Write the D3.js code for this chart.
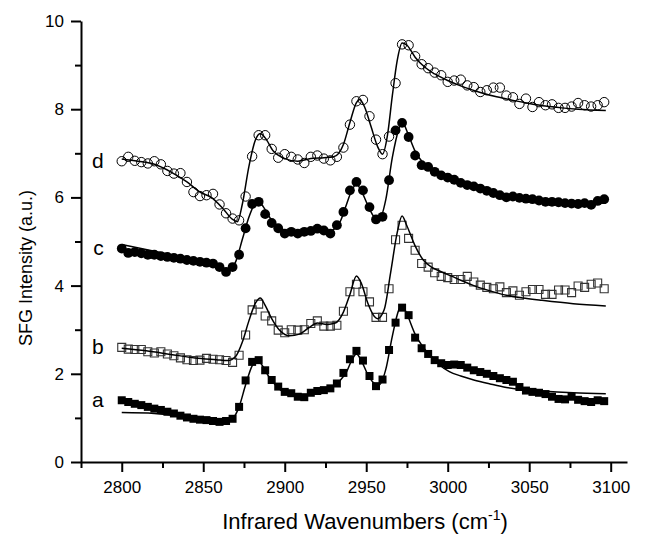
<!DOCTYPE html>
<html>
<head>
<meta charset="utf-8">
<script src="https://cdnjs.cloudflare.com/ajax/libs/d3/7.8.5/d3.min.js"></script>
<style>
body { margin: 0; background: #fff; }
svg { font-family: "Liberation Sans", Arial, sans-serif; }
.axis path, .axis line { stroke: #000; stroke-width: 2; }
.axis text { font-size: 17px; fill: #000; }
</style>
</head>
<body>
<svg width="650" height="535"></svg>
<script>
// measured points, every 4 cm-1
var wavenumbers = [2800,2804,2808,2812,2816,2820,2824,2828,2832,2836,2840,2844,2848,2852,2856,2860,2864,2868,2872,2876,
  2880,2884,2888,2892,2896,2900,2904,2908,2912,2916,2920,2924,2928,2932,2936,2940,2944,2948,2952,2956,
  2960,2964,2968,2972,2976,2980,2984,2988,2992,2996,3000,3004,3008,3012,3016,3020,3024,3028,3032,3036,
  3040,3044,3048,3052,3056,3060,3064,3068,3072,3076,3080,3084,3088,3092,3096];

var seriesA = [1.40,1.36,1.32,1.29,1.25,1.21,1.18,1.14,1.10,1.05,1.01,0.98,0.96,0.95,0.93,0.91,0.93,0.98,1.25,1.85,
  2.27,2.31,2.08,1.86,1.71,1.59,1.56,1.48,1.47,1.57,1.61,1.63,1.67,1.78,2.02,2.33,2.52,2.30,1.95,1.72,
  1.87,2.54,3.16,3.50,3.33,2.82,2.58,2.45,2.31,2.24,2.20,2.21,2.20,2.14,2.08,2.04,2.00,1.95,1.90,1.86,
  1.82,1.70,1.62,1.59,1.57,1.54,1.48,1.43,1.42,1.48,1.41,1.38,1.36,1.40,1.38];

var seriesB = [2.60,2.56,2.55,2.55,2.50,2.47,2.50,2.45,2.41,2.36,2.32,2.30,2.31,2.35,2.33,2.32,2.30,2.26,2.42,2.88,
  3.45,3.58,3.31,3.20,2.99,2.93,3.00,2.99,3.00,3.14,3.20,3.08,3.08,3.10,3.42,3.86,4.03,3.86,3.63,3.28,
  3.28,3.93,5.04,5.37,5.07,4.80,4.50,4.42,4.29,4.21,4.18,4.14,4.14,4.21,4.08,4.01,3.96,3.93,3.97,3.84,
  3.88,3.78,3.86,3.91,3.91,3.80,3.80,3.90,3.90,3.84,3.99,3.96,4.03,4.06,3.93];

var seriesC = [4.84,4.74,4.76,4.73,4.70,4.70,4.67,4.65,4.63,4.61,4.58,4.56,4.54,4.52,4.50,4.42,4.31,4.42,4.70,5.30,
  5.85,5.90,5.62,5.42,5.30,5.18,5.22,5.18,5.22,5.24,5.29,5.25,5.18,5.37,5.67,6.16,6.35,6.16,5.78,5.50,
  5.56,6.39,7.52,7.69,7.37,6.95,6.73,6.69,6.58,6.50,6.45,6.40,6.33,6.28,6.25,6.20,6.15,6.10,6.05,6.00,
  6.02,5.99,5.97,5.96,5.93,5.90,5.90,5.89,5.87,5.86,5.85,5.87,5.83,5.92,5.96];

var seriesD = [6.82,6.92,6.83,6.80,6.77,6.82,6.75,6.60,6.54,6.55,6.35,6.12,6.03,6.05,6.08,5.84,5.64,5.52,5.48,6.02,
  6.93,7.41,7.41,7.10,6.90,6.98,6.92,6.86,6.78,6.92,6.95,6.88,6.84,6.92,7.13,7.65,8.18,8.21,7.84,7.31,
  6.98,7.38,8.59,9.47,9.45,9.20,9.02,8.93,8.83,8.77,8.62,8.65,8.67,8.54,8.50,8.39,8.43,8.49,8.49,8.31,
  8.27,8.12,8.24,8.05,8.16,8.09,8.11,8.03,8.03,8.06,8.14,8.09,8.06,8.09,8.16];

// fitted curves, [wavenumber, intensity]
var fitA = [[2800,1.12],[2820,1.10],[2840,1.01],[2850,0.95],[2858,0.90],[2863,0.89],[2868,0.98],[2872,1.25],[2876,1.75],
  [2880,2.18],[2883,2.30],[2886,2.20],[2890,1.95],[2896,1.68],[2904,1.50],[2910,1.47],[2916,1.55],[2922,1.62],[2928,1.68],
  [2934,1.85],[2938,2.05],[2941,2.30],[2944,2.45],[2947,2.30],[2951,1.98],[2955,1.78],[2958,1.75],[2962,2.10],[2966,2.85],
  [2970,3.45],[2972,3.55],[2975,3.35],[2980,2.90],[2985,2.60],[2990,2.40],[2995,2.20],[3001,2.05],[3008,1.95],[3016,1.86],
  [3026,1.77],[3036,1.69],[3046,1.64],[3057,1.61],[3077,1.57],[3097,1.55]];

var fitB = [[2800,2.58],[2815,2.52],[2830,2.44],[2845,2.36],[2858,2.32],[2865,2.30],[2870,2.40],[2874,2.72],[2878,3.20],
  [2882,3.60],[2885,3.72],[2888,3.55],[2892,3.25],[2897,2.98],[2903,2.86],[2909,2.90],[2915,3.05],[2920,3.15],[2926,3.12],
  [2931,3.15],[2936,3.40],[2940,3.80],[2944,4.22],[2947,4.05],[2951,3.60],[2955,3.30],[2957,3.25],[2961,3.45],[2965,4.30],
  [2969,5.20],[2972,5.58],[2975,5.35],[2980,4.90],[2985,4.58],[2990,4.42],[2995,4.33],[3002,4.22],[3008,4.12],[3016,4.00],
  [3026,3.88],[3036,3.78],[3046,3.72],[3057,3.67],[3077,3.59],[3097,3.54]];

var fitC = [[2800,4.93],[2820,4.78],[2840,4.62],[2855,4.48],[2862,4.40],[2866,4.36],[2870,4.55],[2874,5.05],[2878,5.55],
  [2882,5.88],[2884,5.92],[2887,5.78],[2892,5.48],[2898,5.28],[2905,5.20],[2912,5.20],[2920,5.25],[2928,5.25],[2934,5.45],
  [2938,5.85],[2941,6.15],[2944,6.30],[2947,6.15],[2951,5.82],[2955,5.55],[2958,5.50],[2962,5.95],[2966,6.90],[2970,7.55],
  [2972,7.72],[2975,7.50],[2980,7.05],[2985,6.78],[2990,6.62],[2996,6.48],[3004,6.35],[3015,6.22],[3030,6.08],[3045,5.99],
  [3060,5.93],[3080,5.89],[3097,5.87]];

var fitD = [[2800,6.87],[2810,6.82],[2820,6.75],[2830,6.58],[2840,6.35],[2848,6.12],[2855,6.00],[2862,5.75],[2868,5.50],
  [2871,5.45],[2874,5.85],[2878,6.70],[2882,7.30],[2885,7.45],[2888,7.35],[2893,7.05],[2900,6.88],[2908,6.82],[2916,6.88],
  [2924,6.90],[2930,6.92],[2936,7.20],[2940,7.70],[2944,8.15],[2946,8.22],[2949,8.05],[2953,7.60],[2957,7.15],[2960,6.98],
  [2963,7.40],[2966,8.30],[2969,9.10],[2972,9.50],[2975,9.45],[2980,9.18],[2986,8.95],[2992,8.80],[3000,8.65],[3010,8.50],
  [3020,8.38],[3030,8.28],[3040,8.20],[3050,8.13],[3060,8.07],[3070,8.03],[3080,8.00],[3097,7.97]];

var seriesLabels = ['a', 'b', 'c', 'd'];
var xMajor = [2800, 2850, 2900, 2950, 3000, 3050, 3100];
var xMinor = [2775, 2825, 2875, 2925, 2975, 3025, 3075];
var yMajor = [0, 2, 4, 6, 8, 10];
var yMinor = [1, 3, 5, 7, 9];

var svg = d3.select('svg');
var margin = {top: 21, right: 23, bottom: 73, left: 81};
var width = +svg.attr('width') - margin.left - margin.right;
var height = +svg.attr('height') - margin.top - margin.bottom;
var g = svg.append('g')
  .attr('transform', `translate(${margin.left},${margin.top})`);

var x = d3.scaleLinear().domain([2775, 3110]).range([0, width]);
var y = d3.scaleLinear().domain([0, 10]).range([height, 0]);

// axes, major + minor ticks
g.append('g')
  .attr('class', 'axis')
  .attr('transform', `translate(0,${height})`)
  .call(d3.axisBottom(x).tickValues(xMajor).tickSize(10).tickSizeOuter(0).tickPadding(9).tickFormat(d3.format('d')));
g.append('g')
  .attr('class', 'axis')
  .attr('transform', `translate(0,${height})`)
  .call(d3.axisBottom(x).tickValues(xMinor).tickSize(6).tickFormat(''))
  .select('.domain').remove();

g.append('g')
  .attr('class', 'axis')
  .call(d3.axisLeft(y).tickValues(yMajor).tickSize(10).tickSizeOuter(0).tickPadding(7));
g.append('g')
  .attr('class', 'axis')
  .call(d3.axisLeft(y).tickValues(yMinor).tickSize(6).tickFormat(''))
  .select('.domain').remove();

var series = [
  {name: seriesLabels[0], values: seriesA, fit: fitA, shape: 'square', filled: true},
  {name: seriesLabels[1], values: seriesB, fit: fitB, shape: 'square', filled: false},
  {name: seriesLabels[2], values: seriesC, fit: fitC, shape: 'circle', filled: true},
  {name: seriesLabels[3], values: seriesD, fit: fitD, shape: 'circle', filled: false}
];

var line = d3.line()
  .x((d) => x(d[0]))
  .y((d) => y(d[1]))
  .curve(d3.curveMonotoneX);

series.forEach((s) => {
  var pts = wavenumbers.map((w, i) => [w, s.values[i]]);
  var grp = g.append('g');
  if (s.shape === 'square') {
    grp.selectAll('path')
      .data(pts)
      .enter().append('path')
      .attr('d', d3.symbol().type(d3.symbolSquare).size(s.filled ? 64 : 64))
      .attr('transform', (d) => `translate(${x(d[0])},${y(d[1])})`)
      .attr('fill', s.filled ? '#000' : 'none')
      .attr('stroke', s.filled ? 'none' : '#333')
      .attr('stroke-width', 1.1);
  } else {
    grp.selectAll('circle')
      .data(pts)
      .enter().append('circle')
      .attr('cx', (d) => x(d[0]))
      .attr('cy', (d) => y(d[1]))
      .attr('r', s.filled ? 4.9 : 4.7)
      .attr('fill', s.filled ? '#000' : 'none')
      .attr('stroke', '#000')
      .attr('stroke-width', s.filled ? 0 : 1);
  }
  g.append('path')
    .datum(s.fit)
    .attr('fill', 'none')
    .attr('stroke', '#000')
    .attr('stroke-width', 1.5)
    .attr('d', line);

  g.append('text')
    .attr('x', x(wavenumbers[0]) - 18)
    .attr('y', y(s.values[0]))
    .attr('dy', '0.32em')
    .attr('text-anchor', 'end')
    .attr('font-size', 21)
    .text(s.name);
});

// axis titles
svg.append('text')
  .attr('transform', 'translate(32,268) rotate(-90)')
  .attr('text-anchor', 'middle')
  .attr('font-size', 18)
  .text('SFG Intensity (a.u.)');

var xt = svg.append('text')
  .attr('x', 365)
  .attr('y', 529)
  .attr('text-anchor', 'middle')
  .attr('font-size', 22);
xt.append('tspan').text('Infrared Wavenumbers (cm');
xt.append('tspan').attr('dy', -9).attr('font-size', 14).text('-1');
xt.append('tspan').attr('dy', 9).text(')');
</script>
</body>
</html>
